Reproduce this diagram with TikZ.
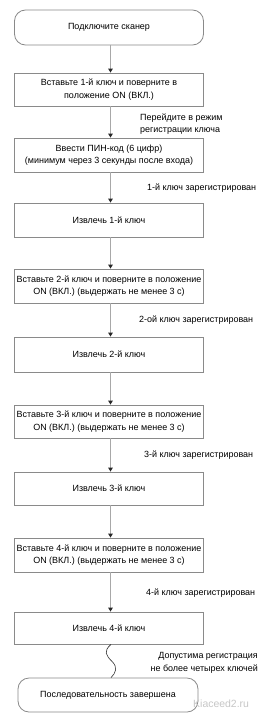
\documentclass[tikz,border=0pt]{standalone}
\usepackage{fontspec}
\setmainfont{Liberation Sans}
\usetikzlibrary{arrows.meta}
\definecolor{boxline}{HTML}{8A8A8A}
\definecolor{arrline}{HTML}{A8A8A8}
\begin{document}
\begin{tikzpicture}[x=1bp,y=-1bp,
  font=\fontsize{9}{12.5}\selectfont,
  stepbox/.style={draw=boxline,line width=0.8bp,minimum width=189bp,inner sep=1bp,align=center},
  termbox/.style={draw=boxline,line width=0.8bp,rounded corners=11bp,inner sep=1bp,align=center},
  flow/.style={draw=arrline,line width=1.4bp,-{Triangle[width=4.5bp,length=4bp,color=black!85]}},
  note/.style={inner sep=0pt,align=left,anchor=west},
  wave/.style={draw=black!80,line width=0.6bp}]
\fill[white] (0,0) rectangle (268,719);
\useasboundingbox (0,0) rectangle (268,719);

\node[termbox,minimum width=189bp,minimum height=35bp] (r1) at (109,27.5) {Подключите сканер};
\node[stepbox,minimum height=33bp] (b2) at (109,89.5) {Вставьте 1-й ключ и поверните в\\положение ON (ВКЛ.)};
\node[stepbox,minimum height=34bp] (b3) at (109,155) {Ввести ПИН-код (6 цифр)\\(минимум через 3 секунды после входа)};
\node[stepbox,minimum height=34bp] (b4) at (109,220) {Извлечь 1-й ключ};
\node[stepbox,minimum height=34bp] (b5) at (109,286) {Вставьте 2-й ключ и поверните в положение\\ON (ВКЛ.) (выдержать не менее 3 с)};
\node[stepbox,minimum height=35bp] (b6) at (109,354.5) {Извлечь 2-й ключ};
\node[stepbox,minimum height=33bp] (b7) at (109,421.5) {Вставьте 3-й ключ и поверните в положение\\ON (ВКЛ.) (выдержать не менее 3 с)};
\node[stepbox,minimum height=33bp] (b8) at (109,488.5) {Извлечь 3-й ключ};
\node[stepbox,minimum height=34bp] (b9) at (109,555) {Вставьте 4-й ключ и поверните в положение\\ON (ВКЛ.) (выдержать не менее 3 с)};
\node[stepbox,minimum height=32bp] (b10) at (109,628) {Извлечь 4-й ключ};
\node[termbox,minimum width=180bp,minimum height=34bp] (r2) at (108,695) {Последовательность завершена};

\foreach \a/\b in {r1/b2,b2/b3,b3/b4,b4/b5,b5/b6,b6/b7,b7/b8,b8/b9,b9/b10}
  \draw[flow] ([xshift=1.5bp]\a.south) -- ([xshift=1.5bp]\b.north);

\draw[wave] ([xshift=2bp]b10.south) .. controls +(-8,7) and +(-6,-6) .. ++(1,17)
  .. controls +(6,6) and +(5,-5) .. ([xshift=3bp]r2.north);

\node[note] (n1) at (140,124) {Перейдите в режим\\регистрации ключа};
\node[note] (n2) at (147,188) {1-й ключ зарегистрирован};
\node[note] (n3) at (139,320) {2-ой ключ зарегистрирован};
\node[note] (n4) at (144,455) {3-й ключ зарегистрирован};
\node[note] (n5) at (146,593) {4-й ключ зарегистрирован};
\node[inner sep=0pt,align=right,anchor=east] (n6) at (258,663) {Допустима регистрация\\не более четырех ключей};
\node[inner sep=0pt,anchor=west,text=black!22,font=\fontsize{10.5}{12}\selectfont] (wm) at (193,704) {Kiaceed2.ru};
\end{tikzpicture}
\end{document}
